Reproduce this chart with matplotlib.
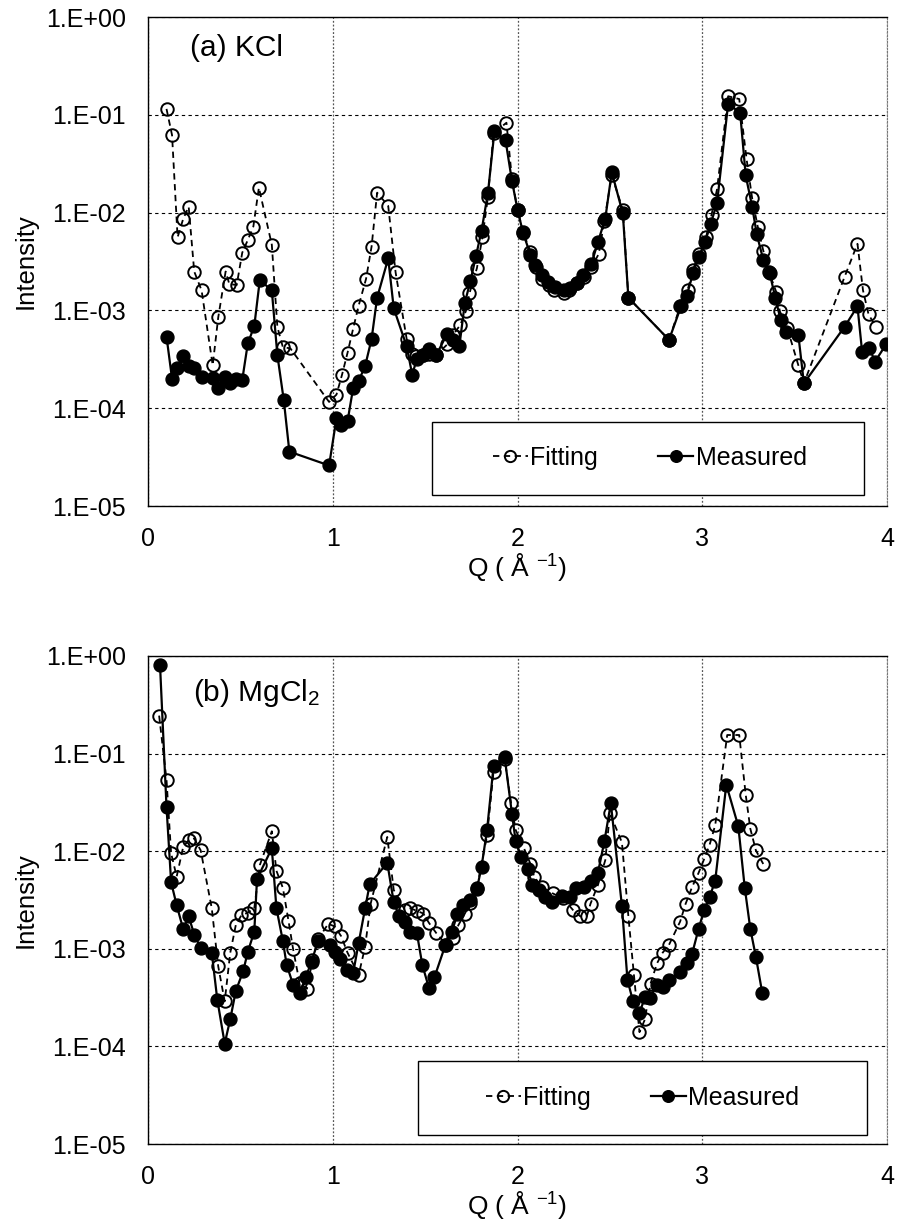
import numpy as np
import matplotlib
matplotlib.use("Agg")
import matplotlib.pyplot as plt
from matplotlib.patches import Rectangle
from matplotlib.ticker import FixedLocator, FuncFormatter, NullLocator

plt.rcParams["font.family"] = ["Liberation Sans", "DejaVu Sans"]
plt.rcParams["mathtext.fontset"] = "custom"
plt.rcParams["mathtext.rm"] = "Liberation Sans"
plt.rcParams["mathtext.it"] = "Liberation Sans"

# (a) KCl
kcl_fit_q = [0.10, 0.13, 0.16, 0.19, 0.22, 0.25, 0.29, 0.35, 0.38, 0.42, 0.44, 0.48, 0.51, 0.54, 0.57,
             0.60, 0.67, 0.70, 0.73, 0.77, 0.98, 1.02, 1.05, 1.08, 1.11, 1.14, 1.18, 1.21, 1.24, 1.30,
             1.34, 1.40, 1.43, 1.45, 1.49, 1.52, 1.56, 1.62, 1.65, 1.69, 1.72, 1.74, 1.78, 1.81, 1.84,
             1.87, 1.94, 1.97, 2.00, 2.03, 2.07, 2.10, 2.13, 2.17, 2.20, 2.25, 2.28, 2.32, 2.36, 2.40,
             2.44, 2.47, 2.51, 2.57, 2.60, 2.82, 2.88, 2.92, 2.95, 2.98, 3.02, 3.05, 3.08, 3.14, 3.20,
             3.24, 3.27, 3.30, 3.33, 3.36, 3.40, 3.42, 3.46, 3.52, 3.55, 3.77, 3.84, 3.87, 3.90, 3.94]
kcl_fit_i = [1.15e-1, 6.2e-2, 5.6e-3, 8.6e-3, 1.15e-2, 2.5e-3, 1.6e-3, 2.75e-4, 8.5e-4, 2.5e-3,
             1.86e-3, 1.82e-3, 3.9e-3, 5.25e-3, 7.2e-3, 1.8e-2, 4.7e-3, 6.8e-4, 4.2e-4, 4.1e-4,
             1.16e-4, 1.38e-4, 2.2e-4, 3.7e-4, 6.5e-4, 1.12e-3, 2.1e-3, 4.5e-3, 1.6e-2, 1.17e-2,
             2.45e-3, 5.1e-4, 3.6e-4, 3.4e-4, 3.5e-4, 3.6e-4, 3.5e-4, 4.5e-4, 5.6e-4, 7.1e-4,
             9.8e-4, 1.5e-3, 2.7e-3, 5.6e-3, 1.45e-2, 6.5e-2, 8.3e-2, 2.2e-2, 1.07e-2, 6.3e-3,
             4.0e-3, 2.8e-3, 2.1e-3, 1.8e-3, 1.6e-3, 1.5e-3, 1.6e-3, 1.9e-3, 2.2e-3, 2.75e-3,
             3.8e-3, 8.3e-3, 2.4e-2, 1.07e-2, 1.35e-3, 5.0e-4, 1.1e-3, 1.6e-3, 2.6e-3, 3.8e-3,
             5.6e-3, 9.5e-3, 1.74e-2, 1.55e-1, 1.45e-1, 3.5e-2, 1.4e-2, 7.2e-3, 4.1e-3, 2.5e-3,
             1.55e-3, 9.8e-4, 6.6e-4, 2.75e-4, 1.8e-4, 2.2e-3, 4.8e-3, 1.6e-3, 9.1e-4, 6.8e-4]
kcl_meas_q = [0.10, 0.13, 0.155, 0.19, 0.22, 0.25, 0.29, 0.35, 0.38, 0.415, 0.445, 0.475, 0.51, 0.54,
              0.575, 0.605, 0.67, 0.70, 0.735, 0.765, 0.98, 1.02, 1.045, 1.08, 1.11, 1.14, 1.175,
              1.21, 1.24, 1.30, 1.33, 1.40, 1.43, 1.455, 1.49, 1.52, 1.56, 1.62, 1.65, 1.685, 1.715,
              1.745, 1.775, 1.805, 1.84, 1.875, 1.935, 1.97, 2.00, 2.03, 2.07, 2.095, 2.13, 2.165,
              2.205, 2.25, 2.285, 2.32, 2.355, 2.40, 2.435, 2.475, 2.51, 2.57, 2.60, 2.82, 2.885,
              2.915, 2.95, 2.98, 3.015, 3.045, 3.08, 3.14, 3.205, 3.235, 3.27, 3.295, 3.33, 3.365,
              3.395, 3.425, 3.455, 3.52, 3.55, 3.77, 3.84, 3.865, 3.905, 3.935, 3.995]
kcl_meas_i = [5.4e-4, 2.0e-4, 2.6e-4, 3.4e-4, 2.7e-4, 2.6e-4, 2.1e-4, 2.05e-4, 1.6e-4, 2.1e-4,
              1.8e-4, 2.0e-4, 1.95e-4, 4.6e-4, 6.9e-4, 2.05e-3, 1.6e-3, 3.5e-4, 1.2e-4, 3.6e-5,
              2.6e-5, 7.9e-5, 6.8e-5, 7.4e-5, 1.6e-4, 1.9e-4, 2.7e-4, 5.1e-4, 1.35e-3, 3.4e-3,
              1.05e-3, 4.3e-4, 2.2e-4, 3.2e-4, 3.5e-4, 4.0e-4, 3.5e-4, 5.8e-4, 5.0e-4, 4.3e-4,
              1.2e-3, 2.0e-3, 3.6e-3, 6.5e-3, 1.6e-2, 6.8e-2, 5.5e-2, 2.1e-2, 1.07e-2, 6.2e-3,
              3.7e-3, 2.9e-3, 2.3e-3, 1.95e-3, 1.75e-3, 1.6e-3, 1.7e-3, 1.9e-3, 2.3e-3, 3.0e-3,
              5.0e-3, 8.7e-3, 2.6e-2, 9.8e-3, 1.35e-3, 5.0e-4, 1.1e-3, 1.4e-3, 2.4e-3, 3.5e-3,
              5.0e-3, 7.6e-3, 1.26e-2, 1.3e-1, 1.05e-1, 2.4e-2, 1.15e-2, 6.0e-3, 3.3e-3, 2.4e-3,
              1.35e-3, 7.9e-4, 6.0e-4, 5.6e-4, 1.8e-4, 6.8e-4, 1.1e-3, 3.8e-4, 4.1e-4, 3.0e-4, 4.5e-4]

# (b) MgCl2
mg_fit_q = [0.06, 0.10, 0.125, 0.155, 0.19, 0.22, 0.25, 0.285, 0.345, 0.38, 0.415, 0.445, 0.475,
            0.505, 0.54, 0.575, 0.605, 0.67, 0.695, 0.73, 0.76, 0.785, 0.82, 0.86, 0.89, 0.92, 0.975,
            1.01, 1.045, 1.08, 1.14, 1.175, 1.205, 1.295, 1.33, 1.39, 1.42, 1.455, 1.49, 1.52, 1.56,
            1.615, 1.65, 1.68, 1.715, 1.745, 1.78, 1.835, 1.87, 1.93, 1.965, 1.99, 2.035, 2.07, 2.09,
            2.13, 2.19, 2.245, 2.30, 2.34, 2.375, 2.395, 2.435, 2.475, 2.50, 2.565, 2.60, 2.63, 2.66,
            2.69, 2.72, 2.755, 2.785, 2.82, 2.88, 2.91, 2.945, 2.98, 3.01, 3.04, 3.07, 3.135, 3.20,
            3.235, 3.26, 3.29, 3.33]
mg_fit_i = [2.45e-1, 5.4e-2, 9.5e-3, 5.5e-3, 1.1e-2, 1.3e-2, 1.35e-2, 1.02e-2, 2.6e-3, 6.6e-4,
            2.9e-4, 9.1e-4, 1.75e-3, 2.2e-3, 2.35e-3, 2.6e-3, 7.2e-3, 1.6e-2, 6.3e-3, 4.2e-3,
            1.95e-3, 1.0e-3, 4.5e-4, 3.9e-4, 7.6e-4, 1.25e-3, 1.8e-3, 1.7e-3, 1.35e-3, 9.1e-4,
            5.4e-4, 1.05e-3, 2.9e-3, 1.4e-2, 4.0e-3, 2.5e-3, 2.6e-3, 2.45e-3, 2.3e-3, 1.85e-3,
            1.45e-3, 1.1e-3, 1.3e-3, 1.75e-3, 2.3e-3, 2.95e-3, 4.2e-3, 1.45e-2, 6.5e-2, 8.9e-2,
            3.1e-2, 1.65e-2, 1.07e-2, 7.4e-3, 5.5e-3, 4.3e-3, 3.7e-3, 3.3e-3, 2.5e-3, 2.15e-3,
            2.15e-3, 2.9e-3, 4.5e-3, 8.1e-3, 2.45e-2, 1.23e-2, 2.15e-3, 5.4e-4, 1.4e-4, 1.9e-4,
            4.4e-4, 7.1e-4, 9.1e-4, 1.1e-3, 1.9e-3, 2.9e-3, 4.3e-3, 6.0e-3, 8.3e-3, 1.17e-2,
            1.85e-2, 1.55e-1, 1.55e-1, 3.8e-2, 1.7e-2, 1.02e-2, 7.4e-3]
mg_meas_q = [0.065, 0.10, 0.125, 0.155, 0.19, 0.22, 0.25, 0.285, 0.345, 0.375, 0.415, 0.445, 0.475,
             0.515, 0.54, 0.575, 0.59, 0.67, 0.695, 0.73, 0.75, 0.785, 0.82, 0.855, 0.885, 0.92,
             0.985, 1.01, 1.04, 1.075, 1.11, 1.14, 1.175, 1.20, 1.295, 1.33, 1.36, 1.39, 1.42, 1.455,
             1.485, 1.52, 1.55, 1.61, 1.645, 1.675, 1.705, 1.745, 1.78, 1.805, 1.835, 1.87, 1.93,
             1.97, 1.99, 2.02, 2.055, 2.08, 2.115, 2.15, 2.185, 2.24, 2.285, 2.315, 2.36, 2.40,
             2.435, 2.47, 2.505, 2.565, 2.595, 2.625, 2.66, 2.69, 2.715, 2.755, 2.79, 2.82, 2.88,
             2.915, 2.945, 2.98, 3.01, 3.04, 3.07, 3.13, 3.195, 3.23, 3.26, 3.29, 3.325]
mg_meas_i = [8.0e-1, 2.85e-2, 4.8e-3, 2.8e-3, 1.6e-3, 2.15e-3, 1.4e-3, 1.02e-3, 9.1e-4, 3.0e-4,
             1.07e-4, 1.9e-4, 3.7e-4, 5.9e-4, 9.3e-4, 1.5e-3, 5.2e-3, 1.07e-2, 2.6e-3, 1.2e-3,
             6.9e-4, 4.3e-4, 3.5e-4, 5.2e-4, 7.4e-4, 1.2e-3, 1.1e-3, 9.3e-4, 7.9e-4, 6.0e-4,
             5.6e-4, 1.15e-3, 2.6e-3, 4.6e-3, 7.6e-3, 3.0e-3, 2.15e-3, 1.9e-3, 1.5e-3, 1.45e-3,
             6.8e-4, 4.0e-4, 5.1e-4, 1.1e-3, 1.5e-3, 2.3e-3, 2.8e-3, 3.2e-3, 4.1e-3, 6.9e-3,
             1.65e-2, 7.4e-2, 9.3e-2, 2.4e-2, 1.26e-2, 8.7e-3, 6.5e-3, 4.5e-3, 4.0e-3, 3.4e-3,
             3.0e-3, 3.5e-3, 3.4e-3, 4.2e-3, 4.3e-3, 4.9e-3, 6.0e-3, 1.26e-2, 3.1e-2, 2.75e-3,
             4.8e-4, 2.9e-4, 2.2e-4, 3.2e-4, 3.1e-4, 4.3e-4, 4.1e-4, 4.8e-4, 5.8e-4, 7.2e-4,
             8.9e-4, 1.6e-3, 2.5e-3, 3.4e-3, 5.0e-3, 4.8e-2, 1.8e-2, 4.2e-3, 1.6e-3, 8.3e-4, 3.5e-4]

y_ticks = [1e-5, 1e-4, 1e-3, 1e-2, 1e-1, 1e0]
x_ticks = [0, 1, 2, 3, 4]
FS = 18


def sci_label(v, pos):
    return "1.E%+03d" % int(round(np.log10(v)))


def style_axis(ax):
    ax.set_yscale("log")
    ax.set_xlim(0, 4)
    ax.set_ylim(1e-5, 1)
    ax.xaxis.set_major_locator(FixedLocator(x_ticks))
    ax.yaxis.set_major_locator(FixedLocator(y_ticks))
    ax.yaxis.set_minor_locator(NullLocator())
    ax.yaxis.set_major_formatter(FuncFormatter(sci_label))
    ax.tick_params(length=0, labelsize=FS)
    ax.tick_params(axis="y", pad=16)
    ax.tick_params(axis="x", pad=15)
    ax.yaxis.grid(True, color="black", linestyle=(0, (3, 3)), linewidth=0.8)
    ax.xaxis.grid(True, color="#555555", linestyle=(0, (1.5, 1.5)), linewidth=0.9)
    for s in ["left", "bottom", "top"]:
        ax.spines[s].set_linewidth(1.0)
    ax.spines["right"].set_color("#777777")
    ax.spines["right"].set_linestyle((0, (1.5, 1.5)))
    ax.set_ylabel("Intensity", fontsize=FS + 0.5)
    ax.yaxis.set_label_coords(-0.15, 0.5)
    ax.set_xlabel("Q ( Å $^{-1}$)", fontsize=FS + 1)
    ax.xaxis.set_label_coords(0.5, -0.092)


def draw(ax, fq, fi, mq, mi):
    ax.plot(fq, fi, color="black", linestyle=(0, (3.5, 2.5)), linewidth=1.3,
            marker="o", markersize=9, markerfacecolor="none", markeredgewidth=1.4,
            label="Fitting", zorder=3)
    ax.plot(mq, mi, color="black", linestyle="-", linewidth=1.6,
            marker="o", markersize=9.3, markerfacecolor="black", markeredgewidth=1.0,
            label="Measured", zorder=4)


fig = plt.figure(figsize=(9.01, 12.25), dpi=100)
ax1 = fig.add_axes([0.1643, 0.5869, 0.8202, 0.3992])
ax2 = fig.add_axes([0.1643, 0.0661, 0.8202, 0.3984])

draw(ax1, kcl_fit_q, kcl_fit_i, kcl_meas_q, kcl_meas_i)
draw(ax2, mg_fit_q, mg_fit_i, mg_meas_q, mg_meas_i)
style_axis(ax1)
style_axis(ax2)

ax1.text(0.057, 0.937, "(a) KCl", transform=ax1.transAxes, fontsize=21.5, va="center")
ax2.text(0.061, 0.925, "(b) MgCl$_2$", transform=ax2.transAxes, fontsize=21.5, va="center")

# legend boxes
for ax, box, cen in [(ax1, (0.384, 0.0225, 0.585, 0.149), (0.679, 0.098)),
                     (ax2, (0.365, 0.0184, 0.608, 0.152), (0.669, 0.094))]:
    ax.add_patch(Rectangle(box[:2], box[2], box[3], transform=ax.transAxes,
                           facecolor="white", edgecolor="black", linewidth=1.0, zorder=5))
    leg = ax.legend(loc="center", bbox_to_anchor=cen, ncol=2, frameon=False,
                    fontsize=FS, handlelength=1.4, handletextpad=0.1, columnspacing=2.4,
                    markerscale=0.9)
    leg.set_zorder(6)

fig.savefig("out.png", dpi=100)
